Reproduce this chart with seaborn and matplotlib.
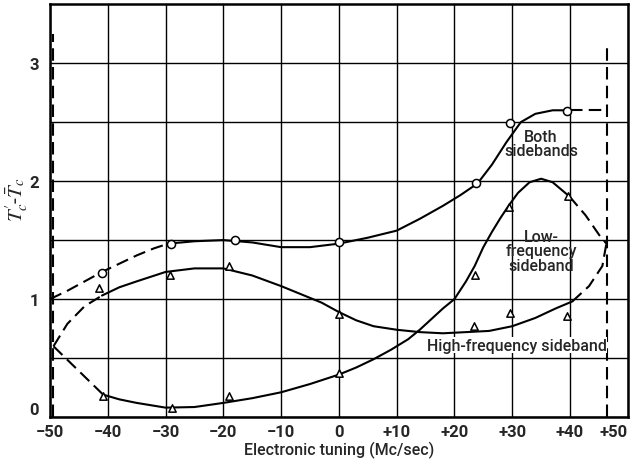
import numpy as np
import pandas as pd
import matplotlib
matplotlib.use("Agg")
import matplotlib.pyplot as plt
import seaborn as sns

# measured points
both_x = [-41, -29, -18, 0, 23.7, 29.6, 39.5]
both_y = [1.22, 1.47, 1.50, 1.48, 1.98, 2.49, 2.59]

low_x = [-40.8, -28.8, -19, 0, 23.5, 29.4, 39.7]
low_y = [0.18, 0.08, 0.18, 0.37, 1.20, 1.78, 1.87]

high_x = [-41.5, -29.3, -19, 0, 23.4, 29.6, 39.4]
high_y = [1.09, 1.20, 1.28, 0.87, 0.77, 0.88, 0.86]

# hand-drawn curves
both_dash_l_x = [-50, -47, -44, -41, -38, -35, -32, -29.5]
both_dash_l_y = [1.00, 1.07, 1.15, 1.23, 1.30, 1.37, 1.43, 1.47]
both_line_x = [-29.5, -25, -20, -15, -10, -5, 0, 5, 10, 14, 18, 21, 24, 26.5, 29, 31.5, 34, 37, 40]
both_line_y = [1.47, 1.49, 1.50, 1.48, 1.44, 1.44, 1.47, 1.52, 1.58, 1.68, 1.79, 1.88, 1.98, 2.14, 2.33, 2.50, 2.57, 2.60, 2.60]
both_dash_r_x = [40, 46.4]
both_dash_r_y = [2.60, 2.60]

high_dash_l_x = [-49.4, -47, -44, -41]
high_dash_l_y = [0.60, 0.79, 0.94, 1.03]
high_line_x = [-41, -38, -35, -30, -25, -20, -15, -10, -6, -3, 0, 3, 6, 10, 14, 18, 22, 26, 30, 34, 37.5, 40.4]
high_line_y = [1.03, 1.10, 1.15, 1.23, 1.26, 1.26, 1.20, 1.11, 1.03, 0.97, 0.89, 0.82, 0.77, 0.74, 0.72, 0.71, 0.72, 0.73, 0.77, 0.84, 0.92, 0.98]
high_dash_r_x = [40.4, 43.3, 45.6, 46.3]
high_dash_r_y = [0.98, 1.11, 1.28, 1.47]

low_dash_l_x = [-49.4, -45, -40.8]
low_dash_l_y = [0.60, 0.39, 0.19]
low_line_x = [-40.8, -38, -35, -30, -25, -20, -15, -10, -5, 0, 3, 6, 9, 12, 14, 16, 18, 20, 22, 23.5, 25, 26.5, 28, 29.5, 31, 33, 35, 37, 39.9]
low_line_y = [0.19, 0.15, 0.12, 0.08, 0.085, 0.12, 0.16, 0.21, 0.28, 0.36, 0.42, 0.49, 0.57, 0.66, 0.74, 0.83, 0.92, 1.00, 1.15, 1.28, 1.44, 1.57, 1.69, 1.80, 1.90, 1.99, 2.02, 1.99, 1.87]
low_dash_r_x = [39.9, 42.7, 45.1, 46.3]
low_dash_r_y = [1.87, 1.71, 1.54, 1.47]

# tuning limits (vertical dashed lines)
limit_l_x = [-49.4, -49.4]
limit_l_y = [0, 3.25]
limit_r_x = [46.4, 46.4]
limit_r_y = [0, 3.17]

xticks = list(range(-50, 51, 10))
xticklabels = ["\u221250", "\u221240", "\u221230", "\u221220", "\u221210", "0",
               "+10", "+20", "+30", "+40", "+50"]
yticks = [0, 1, 2, 3]
ytick_minor = [0.5, 1.5, 2.5]

sns.set_style("white")
plt.rcParams['font.family'] = ['Roboto', 'Liberation Sans', 'DejaVu Sans']
plt.rcParams['mathtext.fontset'] = 'stix'

fig = plt.figure(figsize=(6.37, 4.64), dpi=100)
ax = fig.add_axes([0.0785, 0.099, 0.907, 0.890])

dash = (0, (6, 3))
lw = 1.5
solid = [(both_line_x, both_line_y), (high_line_x, high_line_y), (low_line_x, low_line_y)]
dashed = [(both_dash_l_x, both_dash_l_y), (both_dash_r_x, both_dash_r_y),
          (high_dash_l_x, high_dash_l_y), (high_dash_r_x, high_dash_r_y),
          (low_dash_l_x, low_dash_l_y), (low_dash_r_x, low_dash_r_y),
          (limit_l_x, limit_l_y), (limit_r_x, limit_r_y)]
for cx, cy in solid:
    sns.lineplot(x=cx, y=cy, sort=False, estimator=None, color="black", lw=lw, ax=ax, zorder=3)
for cx, cy in dashed:
    sns.lineplot(x=cx, y=cy, sort=False, estimator=None, color="black", lw=lw, ls=dash, ax=ax, zorder=3)

sns.scatterplot(x=both_x, y=both_y, marker="o", s=34, facecolor="white",
                edgecolor="black", linewidth=1.1, ax=ax, zorder=4)
sns.scatterplot(x=low_x + high_x, y=low_y + high_y, marker="^", s=28, facecolor="white",
                edgecolor="black", linewidth=1.1, ax=ax, zorder=4)

ax.set_xlim(-50, 50)
ax.set_ylim(0, 3.5)
ax.set_xticks(xticks)
ax.set_xticklabels(xticklabels, fontsize=12, fontweight="bold")
ax.get_xticklabels()[-1].set_horizontalalignment("right")
ax.set_yticks(yticks)
ax.set_yticklabels([str(v) for v in yticks], fontsize=12, fontweight="bold")
ax.get_yticklabels()[0].set_verticalalignment("bottom")
ax.set_yticks(ytick_minor, minor=True)
ax.tick_params(which="both", length=0)
ax.tick_params(axis="x", pad=5)
ax.tick_params(axis="y", pad=8)
ax.grid(True, which="both", color="black", lw=1.0)
ax.set_axisbelow(True)
for sp in ax.spines.values():
    sp.set_color("black")
    sp.set_linewidth(1.8)

ax.set_xlabel("Electronic tuning (Mc/sec)", fontsize=11.5, fontweight="medium", labelpad=1)
fig.text(17 / 637, 1 - 200 / 464, r"$T_c'$-$\bar{T}_c$", fontsize=15,
         rotation=90, ha="center", va="center")

kw = dict(fontsize=11.5, fontweight="medium", ha="center", va="center", linespacing=0.95, zorder=5)
ax.text(35, 2.32, "Both\nsidebands", **kw)
ax.text(35, 1.41, "Low-\nfrequency\nsideband", **kw)
ax.text(30.8, 0.61, "High-frequency sideband",
        bbox=dict(facecolor="white", edgecolor="none", pad=0.5), **kw)

fig.savefig("out.png", dpi=100)
